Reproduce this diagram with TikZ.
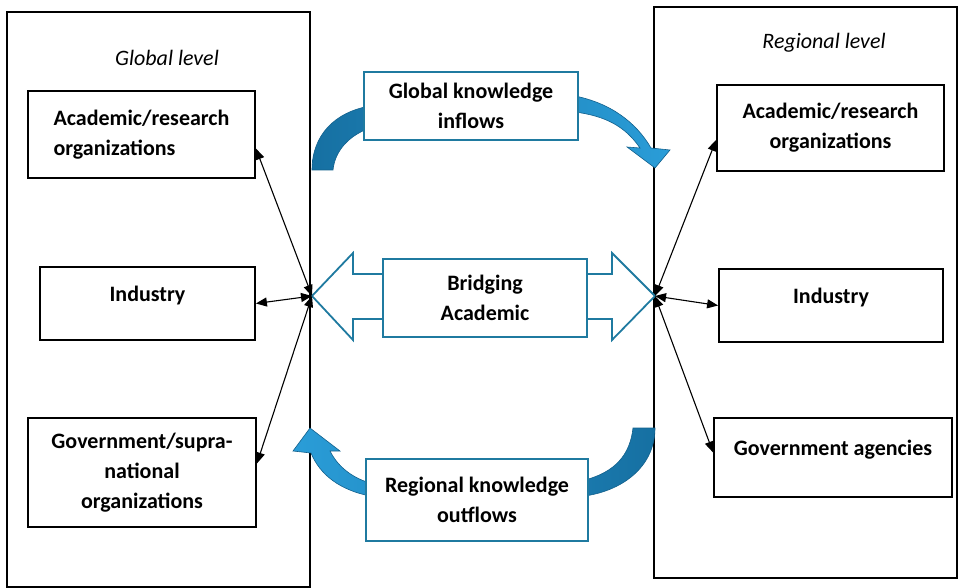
\documentclass[tikz,border=0pt]{standalone}
\usepackage{fontspec}
\setmainfont{Carlito}
\usepackage{tikz}
\usetikzlibrary{arrows.meta, positioning}

\definecolor{flowblue}{RGB}{31,122,160}
\definecolor{flowdark}{RGB}{22,112,162}
\definecolor{flowlight}{RGB}{42,157,216}
\definecolor{flowedge}{RGB}{18,96,140}

\begin{document}
\begin{tikzpicture}[x=1pt, y=-1pt,
  level/.style={rectangle, draw, line width=1.8pt, inner sep=0pt},
  box/.style={rectangle, draw, line width=1.8pt, align=center, font=\fontsize{22}{30}\selectfont\bfseries, inner sep=2pt},
  flowbox/.style={box, draw=flowblue, fill=white},
  title/.style={font=\fontsize{22}{26}\selectfont\itshape},
  arr/.style={{Triangle[length=11pt, width=9pt]}-{Triangle[length=11pt, width=9pt]}, line width=1.1pt},
  flowband/.style={draw=flowedge, line width=0.6pt}]

\useasboundingbox (0,0) rectangle (960,588);

% global and regional frames
\node[level, minimum width=303pt, minimum height=575pt] (global) at (158.5,299.5) {};
\node[level, minimum width=303pt, minimum height=571pt] (regional) at (805.5,292.5) {};
\node[title] (gtitle) at (167,58) {Global level};
\node[title] (rtitle) at (824,43) {Regional level};

\coordinate (gj) at (312,296);
\coordinate (rj) at (655,296);

% knowledge flows (behind the blue boxes)
\path[flowband, left color=flowdark, right color=flowlight]
  (312,170) .. controls (312,135) and (335,112) .. (370,106) -- (575,96)
  .. controls (610,103) and (636,122) .. (651,148) -- (670,150) -- (655,168) -- (627,147) -- (640,148)
  .. controls (625,126) and (605,116) .. (575,112) -- (370,128)
  .. controls (350,135) and (335,150) .. (333,170) -- cycle;
\path[flowband, left color=flowlight, right color=flowdark]
  (633,428) .. controls (630,455) and (615,472) .. (585,480) -- (370,483)
  .. controls (350,477) and (337,465) .. (330,451) -- (340,451) -- (310,428) -- (293,451) -- (311,453)
  .. controls (320,475) and (340,490) .. (370,496) -- (585,496)
  .. controls (625,490) and (655,465) .. (655,428) -- cycle;
\draw[flowblue, line width=1.8pt, fill=white]
  (gj) -- (353,253) -- (353,274) -- (612,274) -- (612,253) -- (rj)
  -- (612,340) -- (612,319) -- (353,319) -- (353,340) -- cycle;

\node[flowbox, minimum width=214pt, minimum height=68pt] (inflow) at (471,106) {Global knowledge\\inflows};
\node[flowbox, minimum width=204pt, minimum height=78pt] (bridge) at (485,298) {Bridging\\Academic};
\node[flowbox, minimum width=222pt, minimum height=82pt] (outflow) at (477,500) {Regional knowledge\\outflows};

% actors at each level
\node[box, align=left, minimum width=227pt, minimum height=87pt] (gacad) at (141.5,134.5) {Academic/research\\organizations};
\node[box, text depth=19pt, minimum width=215pt, minimum height=73pt] (gind) at (147.5,303.5) {Industry};
\node[box, minimum width=228pt, minimum height=109pt] (ggov) at (142,472.5) {Government/supra-\\national\\organizations};
\node[box, minimum width=227pt, minimum height=86pt] (racad) at (830.5,128) {Academic/research\\organizations};
\node[box, text depth=19pt, minimum width=224pt, minimum height=73pt] (rind) at (831,305.5) {Industry};
\node[box, text depth=19pt, minimum width=238pt, minimum height=79pt] (rgov) at (833,457.5) {Government agencies};

\draw[arr] (gj) -- ([yshift=-14pt]gacad.east);
\draw[arr] (gj) -- (gind.east);
\draw[arr] (gj) -- ([yshift=9pt]ggov.east);
\draw[arr] (rj) -- ([yshift=-12pt]racad.west);
\draw[arr] (rj) -- (rind.west);
\draw[arr] (rj) -- ([yshift=5pt]rgov.west);
\end{tikzpicture}
\end{document}
